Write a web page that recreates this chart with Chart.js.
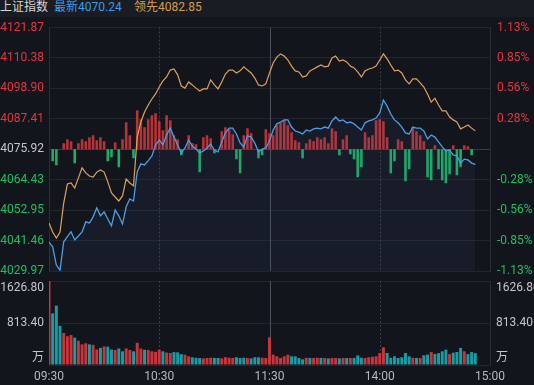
<!DOCTYPE html>
<html>
<head>
<meta charset="utf-8">
<script src="https://cdn.jsdelivr.net/npm/chart.js@4.4.1/dist/chart.umd.min.js"></script>
<style>
  html, body { margin: 0; padding: 0; background: #13151d; width: 534px; height: 385px; overflow: hidden; }
  #hdr { position: absolute; left: 0; top: 0; width: 534px; height: 17px; background: #1a1c23;
         font: 12px Roboto, "Noto Sans CJK SC", sans-serif; line-height: 15px; white-space: nowrap; }
  #hdr span { position: absolute; top: 0; }
  #cPrice { position: absolute; left: 0; top: 17px; }
  #cVol { position: absolute; left: 0; top: 279px; }
</style>
</head>
<body>
<div id="hdr">
  <span style="left:0;color:#d4d6da">上证指数</span>
  <span style="left:54px;color:#3d9be9">最新4070.24</span>
  <span style="left:134px;color:#d89c4f">领先4082.85</span>
</div>
<canvas id="cPrice" width="534" height="263"></canvas>
<canvas id="cVol" width="534" height="106"></canvas>
<script>
// one sample every 2 trading minutes, 09:30 = minute 0, 15:00 = minute 240
const sampleStep = 2;
const prevClose = 4075.92;
const priceTicks = [4029.97, 4041.46, 4052.95, 4064.43, 4075.92, 4087.41, 4098.90, 4110.38, 4121.87];
const tickMinutes = [0, 60, 120, 180, 240];
const tickTimes = ["09:30", "10:30", "11:30", "14:00", "15:00"];
const markMinutes = [60, 120, 180];
const volTicks = [0, 813.40, 1626.80];
const volTickLabels = [["万", ""], "813.40", ["", "1626.80"]];

// 最新 (blue)
const lastVals = [
  4040.9, 4039.1, 4032.2, 4030.3, 4041.0, 4042.9, 4044.8, 4041.7, 4043.2, 4044.7,
  4048.5, 4048.1, 4050.4, 4053.8, 4050.8, 4052.3, 4049.6, 4047.0, 4053.0, 4050.8,
  4047.7, 4054.2, 4057.2, 4056.4, 4067.4, 4070.4, 4070.0, 4071.6, 4073.4, 4077.6,
  4079.4, 4077.6, 4081.3, 4083.9, 4080.5, 4077.6, 4074.5, 4076.4, 4079.4, 4077.1,
  4076.0, 4074.5, 4075.3, 4076.4, 4077.9, 4075.6, 4074.9, 4078.7, 4082.1, 4083.9,
  4083.9, 4081.7, 4078.3, 4076.8, 4081.0, 4080.5, 4078.3, 4074.9, 4076.0, 4076.4,
  4079.0, 4083.2, 4085.5, 4086.2, 4087.0, 4087.0, 4084.3, 4082.8, 4082.4, 4081.7,
  4083.2, 4082.8, 4083.6, 4083.9, 4083.6, 4084.3, 4083.9, 4086.6, 4088.1, 4086.6,
  4087.0, 4085.9, 4086.2, 4085.5, 4084.3, 4083.2, 4085.9, 4086.6, 4087.0, 4087.7,
  4089.6, 4094.5, 4092.2, 4089.2, 4087.0, 4085.9, 4084.3, 4082.1, 4081.7, 4084.3,
  4083.9, 4083.9, 4082.8, 4079.8, 4081.3, 4080.5, 4078.7, 4076.8, 4075.3, 4075.6,
  4073.8, 4073.4, 4070.7, 4072.2, 4071.9, 4070.7, 4070.24
];

// 领先 (orange)
const leadVals = [
  4048.1, 4044.7, 4042.4, 4044.7, 4055.6, 4062.8, 4063.2, 4061.3, 4065.1, 4068.9,
  4067.0, 4065.8, 4065.4, 4067.3, 4068.1, 4067.3, 4063.6, 4059.4, 4057.9, 4056.4,
  4058.3, 4064.7, 4063.2, 4062.1, 4080.5, 4086.2, 4090.0, 4092.6, 4094.9, 4096.8,
  4099.4, 4101.7, 4103.2, 4105.8, 4106.2, 4104.0, 4099.8, 4099.0, 4101.3, 4100.2,
  4099.0, 4097.9, 4098.7, 4098.7, 4102.1, 4100.2, 4098.7, 4101.3, 4104.3, 4105.8,
  4105.8, 4104.7, 4105.5, 4107.0, 4105.8, 4104.7, 4102.8, 4100.2, 4099.8, 4100.6,
  4104.7, 4108.5, 4110.7, 4111.9, 4111.1, 4109.6, 4107.3, 4105.5, 4105.1, 4103.2,
  4103.6, 4105.5, 4106.2, 4107.0, 4107.7, 4107.0, 4107.3, 4110.4, 4111.1, 4109.2,
  4109.6, 4108.9, 4107.3, 4106.6, 4105.1, 4103.2, 4105.5, 4106.2, 4106.6, 4107.3,
  4109.6, 4111.9, 4110.0, 4107.7, 4105.5, 4105.8, 4104.7, 4102.1, 4100.6, 4102.5,
  4102.5, 4101.0, 4099.4, 4096.8, 4093.7, 4095.2, 4092.6, 4090.4, 4090.4, 4088.1,
  4087.0, 4086.2, 4083.6, 4084.3, 4085.1, 4083.9, 4082.85
];

// red / green strength bars around the previous close
const diffVals = [
    0, -12, -16,   0,   6,  10,   8, -14,   6,  10,
    8,  12,  14,   9,  12,   8, -12,  -8,   7, -18,
   10,  27,  14,  -9,  39,  30,  22,  30,  34,  36,
   28,  19,  34,  29,  14,  10,  -6,   0,  14,   6,
    5, -23,  12,  14,  11,  -4,   0,  18,  22,  20,
   15, -10, -24,  14,  21,  16,   0,  -9,  -6,  20,
   16,  14,  24,  27,  29,  24,  17,   9,   7,  -9,
    6,  10,   8,  12,  10,  12,   6,  21,  18,  -6,
   10,  14,  -5, -10, -28, -18,  17,  12,  14,  29,
   30,  28,  12, -24, -12,  10,   8, -32, -20,  22,
   18,  14,   8, -28, -31,   4, -20, -31, -34, -25,
    4, -26, -18,   4,   3,  -6,   0
];

// volume, 万
const volVals = [
  1626.8, 1000, 1150, 760, 620, 556, 580, 530, 470, 400,
  420, 400, 390, 300, 330, 360, 355, 300, 290, 320,
  265, 320, 290, 265, 430, 320, 295, 290, 265, 255,
  295, 265, 240, 232, 250, 245, 210, 200, 168, 150,
  140, 136, 128, 136, 140, 136, 136, 128, 150, 140,
  136, 150, 136, 140, 136, 128, 150, 148, 140, 136,
  536, 200, 168, 136, 168, 200, 168, 168, 136, 110,
  140, 136, 136, 140, 136, 136, 128, 136, 136, 128,
  136, 136, 136, 136, 185, 140, 136, 150, 160, 168,
  232, 342, 232, 136, 168, 136, 150, 232, 168, 140,
  136, 136, 190, 200, 250, 215, 230, 265, 297, 210,
  240, 252, 330, 265, 210, 250, 230
];

const RED = "#e5363c", GREEN = "#1fbf5f", GRAY = "#c4c6cb";
const minutes = lastVals.map((v, i) => i * sampleStep);
const pts = arr => arr.map((v, i) => ({ x: minutes[i], y: v }));

Chart.defaults.font.family = "Roboto, 'Noto Sans CJK SC', sans-serif";
Chart.defaults.font.size = 12;

const noPad = s => { s.paddingTop = 0; s.paddingBottom = 0; s.paddingLeft = 0; s.paddingRight = 0; };

const sessionLines = {
  id: "sessionLines",
  beforeDatasetsDraw(chart) {
    const { ctx, chartArea, scales } = chart;
    ctx.save();
    markMinutes.forEach(m => {
      const px = Math.round(scales.x.getPixelForValue(m)) + 0.5;
      ctx.beginPath();
      ctx.lineWidth = 1;
      ctx.setLineDash(m === 120 ? [] : [2, 2]);
      ctx.strokeStyle = m === 120 ? "#4b505c" : "#3a3e49";
      ctx.moveTo(px, chartArea.top);
      ctx.lineTo(px, chartArea.bottom);
      ctx.stroke();
    });
    ctx.restore();
  }
};

const priceColor = v => v > prevClose + 1e-6 ? RED : (v < prevClose - 1e-6 ? GREEN : GRAY);

new Chart(document.getElementById("cPrice"), {
  data: {
    datasets: [
      {
        type: "line", label: "最新", data: pts(lastVals), yAxisID: "y", order: 0,
        borderColor: "#4a9fe8", borderWidth: 1.3, pointRadius: 0, tension: 0,
        fill: "start", backgroundColor: "rgba(70,100,150,0.10)"
      },
      {
        type: "line", label: "领先", data: pts(leadVals), yAxisID: "y", order: 1,
        borderColor: "#dca25a", borderWidth: 1.2, pointRadius: 0, tension: 0, fill: false
      },
      {
        type: "bar", label: "强弱", data: pts(diffVals), yAxisID: "yBar", order: 2,
        backgroundColor: diffVals.map(v => v >= 0 ? "rgba(214,56,60,0.85)" : "#1bb065"),
        barPercentage: 0.7, categoryPercentage: 1
      }
    ]
  },
  options: {
    responsive: false, devicePixelRatio: 1, animation: false,
    layout: { padding: { top: 10.5, bottom: 9, left: 0, right: 0 } },
    plugins: { legend: { display: false }, tooltip: { enabled: false } },
    scales: {
      x: { type: "linear", min: 0, max: 240, offset: false, display: false },
      y: {
        position: "left", min: priceTicks[0], max: priceTicks[priceTicks.length - 1],
        afterBuildTicks: s => { s.ticks = priceTicks.map(v => ({ value: v })); },
        afterFit: s => { s.width = 49; noPad(s); },
        grid: { drawTicks: false, color: c => c.tick && Math.abs(c.tick.value - prevClose) < 1e-6 ? "#383b45" : "#22252e" },
        border: { color: "#2a2d37" },
        ticks: { padding: 5, color: c => priceColor(c.tick.value), callback: v => v.toFixed(2) }
      },
      yPct: {
        position: "right", min: priceTicks[0], max: priceTicks[priceTicks.length - 1],
        afterBuildTicks: s => { s.ticks = priceTicks.map(v => ({ value: v })); },
        afterFit: s => { s.width = 44; noPad(s); },
        grid: { display: false, drawTicks: false },
        border: { color: "#2a2d37" },
        ticks: {
          padding: 7, color: c => priceColor(c.tick.value),
          callback: v => Math.abs(v - prevClose) < 1e-6 ? "" : ((v - prevClose) / prevClose * 100).toFixed(2) + "%"
        }
      },
      yBar: { display: false, min: -122, max: 122 }
    }
  },
  plugins: [sessionLines]
});

const volColors = volVals.map((v, i) => (i === 0 || lastVals[i] >= lastVals[i - 1]) ? "#c8363b" : "#1a9ca2");

new Chart(document.getElementById("cVol"), {
  type: "bar",
  data: {
    datasets: [{
      label: "成交量", data: pts(volVals), backgroundColor: volColors,
      barPercentage: 0.8, categoryPercentage: 1
    }]
  },
  options: {
    responsive: false, devicePixelRatio: 1, animation: false,
    layout: { padding: { top: 2, bottom: 0, left: 0, right: 0 } },
    plugins: { legend: { display: false }, tooltip: { enabled: false } },
    scales: {
      x: {
        type: "linear", min: 0, max: 240, offset: false,
        afterBuildTicks: s => { s.ticks = tickMinutes.map(v => ({ value: v })); },
        afterFit: s => { s.height = 20; noPad(s); },
        grid: { display: false, drawTicks: false, offset: false },
        border: { display: false },
        ticks: {
          padding: 5, color: "#b5b8bf", autoSkip: false, maxRotation: 0, minRotation: 0,
          callback: v => tickTimes[tickMinutes.indexOf(v)]
        }
      },
      y: {
        position: "left", min: 0, max: volTicks[2],
        afterBuildTicks: s => { s.ticks = volTicks.map(v => ({ value: v })); },
        afterFit: s => { s.width = 49; noPad(s); },
        grid: { drawTicks: false, color: "#22252e" },
        border: { color: "#2a2d37" },
        ticks: { padding: 5, color: GRAY, callback: v => volTickLabels[volTicks.indexOf(v)] }
      },
      y2: {
        position: "right", min: 0, max: volTicks[2],
        afterBuildTicks: s => { s.ticks = volTicks.map(v => ({ value: v })); },
        afterFit: s => { s.width = 44; noPad(s); },
        grid: { display: false, drawTicks: false },
        border: { color: "#2a2d37" },
        ticks: { padding: 6, color: GRAY, callback: v => volTickLabels[volTicks.indexOf(v)] }
      }
    }
  },
  plugins: [sessionLines]
});
</script>
</body>
</html>
